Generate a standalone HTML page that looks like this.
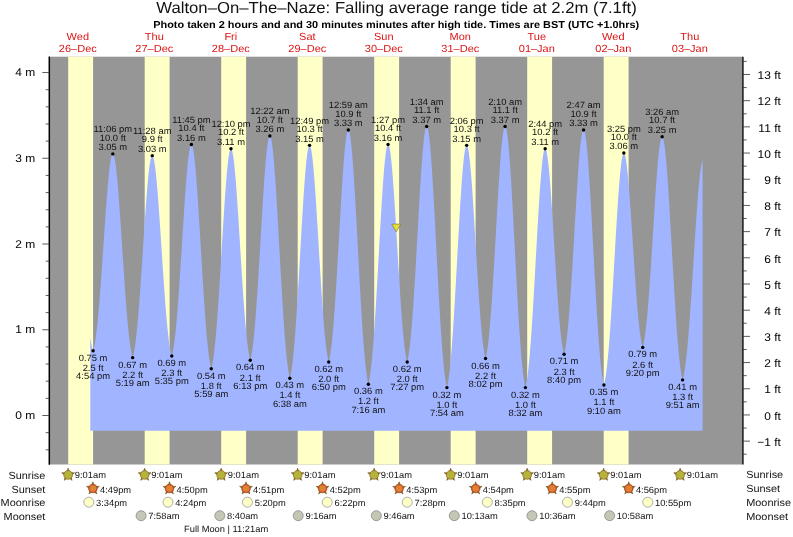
<!DOCTYPE html>
<html><head><meta charset="utf-8"><title>Tide chart</title>
<style>html,body{margin:0;padding:0;background:#fff;width:793px;height:537px;overflow:hidden}</style></head>
<body>
<svg width="793" height="537" viewBox="0 0 793 537" style="position:absolute;left:0;top:0;font-family:'Liberation Sans',sans-serif;text-rendering:geometricPrecision;will-change:transform">
<rect x="49.9" y="56.7" width="692.50" height="407.80" fill="#969696"/>
<rect x="68.20" y="56.7" width="24.9" height="407.80" fill="#ffffc8"/>
<rect x="144.70" y="56.7" width="24.9" height="407.80" fill="#ffffc8"/>
<rect x="221.20" y="56.7" width="24.9" height="407.80" fill="#ffffc8"/>
<rect x="297.70" y="56.7" width="24.9" height="407.80" fill="#ffffc8"/>
<rect x="374.20" y="56.7" width="24.9" height="407.80" fill="#ffffc8"/>
<rect x="450.70" y="56.7" width="24.9" height="407.80" fill="#ffffc8"/>
<rect x="527.20" y="56.7" width="24.9" height="407.80" fill="#ffffc8"/>
<rect x="603.70" y="56.7" width="24.9" height="407.80" fill="#ffffc8"/>
<path d="M90.30,430.80L90.30,337.13L90.80,340.45L91.30,343.40L91.80,345.96L92.30,348.15L92.80,349.97L93.30,350.07L93.80,348.22L94.30,346.00L94.80,343.39L95.30,340.39L95.80,336.99L96.30,333.21L96.80,329.03L97.30,324.48L97.80,319.55L98.30,314.27L98.80,308.65L99.30,302.71L99.80,296.48L100.30,289.98L100.80,283.24L101.30,276.29L101.80,269.18L102.30,261.93L102.80,254.58L103.30,247.17L103.80,239.76L104.30,232.37L104.80,225.06L105.30,217.87L105.80,210.84L106.30,204.03L106.80,197.47L107.30,191.22L107.80,185.31L108.30,179.80L108.80,174.71L109.30,170.10L109.80,166.00L110.30,162.45L110.80,159.47L111.30,157.11L111.80,155.38L112.30,154.31L112.80,153.92L113.30,154.23L113.80,155.25L114.30,156.94L114.80,159.30L115.30,162.28L115.80,165.87L116.30,170.02L116.80,174.71L117.30,179.88L117.80,185.51L118.30,191.55L118.80,197.95L119.30,204.67L119.80,211.66L120.30,218.88L120.80,226.27L121.30,233.80L121.80,241.42L122.30,249.07L122.80,256.71L123.30,264.31L123.80,271.82L124.30,279.19L124.80,286.39L125.30,293.39L125.80,300.15L126.30,306.64L126.80,312.83L127.30,318.70L127.80,324.22L128.30,329.38L128.80,334.16L129.30,338.55L129.80,342.55L130.30,346.14L130.80,349.33L131.30,352.11L131.80,354.49L132.30,356.49L132.80,357.16L133.30,355.30L133.80,353.06L134.30,350.41L134.80,347.36L135.30,343.90L135.80,340.02L136.30,335.74L136.80,331.07L137.30,326.00L137.80,320.57L138.30,314.78L138.80,308.65L139.30,302.22L139.80,295.51L140.30,288.55L140.80,281.37L141.30,274.01L141.80,266.51L142.30,258.91L142.80,251.25L143.30,243.58L143.80,235.94L144.30,228.38L144.80,220.94L145.30,213.69L145.80,206.65L146.30,199.89L146.80,193.44L147.30,187.36L147.80,181.69L148.30,176.48L148.80,171.76L149.30,167.58L149.80,163.98L150.30,160.98L150.80,158.62L151.30,156.93L151.80,155.92L152.30,155.64L152.80,156.07L153.30,157.21L153.80,159.05L154.30,161.54L154.80,164.67L155.30,168.40L155.80,172.70L156.30,177.52L156.80,182.84L157.30,188.59L157.80,194.75L158.30,201.27L158.80,208.09L159.30,215.17L159.80,222.46L160.30,229.91L160.80,237.47L161.30,245.10L161.80,252.75L162.30,260.38L162.80,267.93L163.30,275.36L163.80,282.65L164.30,289.73L164.80,296.60L165.30,303.20L165.80,309.50L166.30,315.50L166.80,321.14L167.30,326.43L167.80,331.34L168.30,335.85L168.80,339.97L169.30,343.67L169.80,346.97L170.30,349.85L170.80,352.33L171.30,354.41L171.80,355.76L172.30,353.91L172.80,351.65L173.30,348.98L173.80,345.88L174.30,342.35L174.80,338.40L175.30,334.03L175.80,329.24L176.30,324.04L176.80,318.45L177.30,312.49L177.80,306.18L178.30,299.54L178.80,292.60L179.30,285.39L179.80,277.95L180.30,270.31L180.80,262.52L181.30,254.60L181.80,246.62L182.30,238.61L182.80,230.62L183.30,222.71L183.80,214.91L184.30,207.28L184.80,199.87L185.30,192.72L185.80,185.90L186.30,179.45L186.80,173.40L187.30,167.82L187.80,162.75L188.30,158.22L188.80,154.28L189.30,150.96L189.80,148.29L190.30,146.32L190.80,145.05L191.30,144.52L191.80,144.75L192.30,145.75L192.80,147.50L193.30,149.98L193.80,153.15L194.30,156.99L194.80,161.45L195.30,166.50L195.80,172.10L196.30,178.19L196.80,184.75L197.30,191.71L197.80,199.03L198.30,206.65L198.80,214.54L199.30,222.63L199.80,230.87L200.30,239.21L200.80,247.61L201.30,256.01L201.80,264.37L202.30,272.63L202.80,280.76L203.30,288.71L203.80,296.44L204.30,303.92L204.80,311.11L205.30,317.98L205.80,324.50L206.30,330.65L206.80,336.41L207.30,341.75L207.80,346.68L208.30,351.16L208.80,355.21L209.30,358.82L209.80,361.98L210.30,364.70L210.80,367.00L211.30,368.68L211.80,366.78L212.30,364.46L212.80,361.71L213.30,358.52L213.80,354.89L214.30,350.82L214.80,346.31L215.30,341.37L215.80,336.01L216.30,330.24L216.80,324.08L217.30,317.56L217.80,310.70L218.30,303.52L218.80,296.07L219.30,288.37L219.80,280.46L220.30,272.38L220.80,264.18L221.30,255.90L221.80,247.59L222.30,239.30L222.80,231.07L223.30,222.96L223.80,215.02L224.30,207.30L224.80,199.85L225.30,192.73L225.80,185.98L226.30,179.65L226.80,173.79L227.30,168.45L227.80,163.67L228.30,159.50L228.80,155.96L229.30,153.09L229.80,150.93L230.30,149.50L230.80,148.84L231.30,148.94L231.80,149.83L232.30,151.46L232.80,153.82L233.30,156.89L233.80,160.61L234.30,164.96L234.80,169.90L235.30,175.38L235.80,181.36L236.30,187.79L236.80,194.62L237.30,201.79L237.80,209.27L238.30,216.98L238.80,224.89L239.30,232.93L239.80,241.06L240.30,249.23L240.80,257.37L241.30,265.45L241.80,273.42L242.30,281.23L242.80,288.84L243.30,296.22L243.80,303.31L244.30,310.10L244.80,316.55L245.30,322.64L245.80,328.34L246.30,333.63L246.80,338.50L247.30,342.93L247.80,346.93L248.30,350.48L248.80,353.59L249.30,356.27L249.80,358.51L250.30,360.10L250.80,358.14L251.30,355.75L251.80,352.92L252.30,349.64L252.80,345.90L253.30,341.71L253.80,337.07L254.30,331.98L254.80,326.46L255.30,320.52L255.80,314.18L256.30,307.47L256.80,300.41L257.30,293.03L257.80,285.36L258.30,277.45L258.80,269.32L259.30,261.03L259.80,252.61L260.30,244.12L260.80,235.60L261.30,227.11L261.80,218.69L262.30,210.40L262.80,202.29L263.30,194.41L263.80,186.83L264.30,179.58L264.80,172.73L265.30,166.33L265.80,160.42L266.30,155.04L266.80,150.26L267.30,146.10L267.80,142.61L268.30,139.82L268.80,137.76L269.30,136.46L269.80,135.95L270.30,136.25L270.80,137.38L271.30,139.31L271.80,142.01L272.30,145.45L272.80,149.60L273.30,154.41L273.80,159.86L274.30,165.88L274.80,172.45L275.30,179.49L275.80,186.98L276.30,194.84L276.80,203.03L277.30,211.50L277.80,220.19L278.30,229.04L278.80,238.01L279.30,247.03L279.80,256.05L280.30,265.03L280.80,273.92L281.30,282.66L281.80,291.21L282.30,299.54L282.80,307.59L283.30,315.34L283.80,322.75L284.30,329.79L284.80,336.43L285.30,342.65L285.80,348.44L286.30,353.78L286.80,358.65L287.30,363.05L287.80,366.98L288.30,370.44L288.80,373.43L289.30,375.95L289.80,378.03L290.30,376.39L290.80,374.00L291.30,371.16L291.80,367.85L292.30,364.08L292.80,359.83L293.30,355.13L293.80,349.96L294.30,344.35L294.80,338.31L295.30,331.85L295.80,325.00L296.30,317.79L296.80,310.24L297.30,302.39L297.80,294.27L298.30,285.93L298.80,277.41L299.30,268.75L299.80,259.99L300.30,251.20L300.80,242.42L301.30,233.69L301.80,225.09L302.30,216.66L302.80,208.45L303.30,200.52L303.80,192.93L304.30,185.73L304.80,178.96L305.30,172.69L305.80,166.96L306.30,161.81L306.80,157.29L307.30,153.45L307.80,150.31L308.30,147.91L308.80,146.29L309.30,145.47L309.80,145.46L310.30,146.26L310.80,147.84L311.30,150.18L311.80,153.25L312.30,157.01L312.80,161.42L313.30,166.45L313.80,172.04L314.30,178.15L314.80,184.73L315.30,191.73L315.80,199.10L316.30,206.77L316.80,214.71L317.30,222.84L317.80,231.12L318.30,239.49L318.80,247.90L319.30,256.29L319.80,264.61L320.30,272.82L320.80,280.87L321.30,288.72L321.80,296.31L322.30,303.63L322.80,310.62L323.30,317.26L323.80,323.52L324.30,329.38L324.80,334.82L325.30,339.83L325.80,344.38L326.30,348.48L326.80,352.12L327.30,355.30L327.80,358.03L328.30,360.31L328.80,361.68L329.30,359.63L329.80,357.12L330.30,354.16L330.80,350.74L331.30,346.84L331.80,342.47L332.30,337.64L332.80,332.34L333.30,326.60L333.80,320.43L334.30,313.85L334.80,306.88L335.30,299.55L335.80,291.90L336.30,283.95L336.80,275.74L337.30,267.33L337.80,258.74L338.30,250.03L338.80,241.24L339.30,232.43L339.80,223.64L340.30,214.94L340.80,206.38L341.30,198.00L341.80,189.88L342.30,182.06L342.80,174.59L343.30,167.53L343.80,160.94L344.30,154.86L344.80,149.35L345.30,144.44L345.80,140.19L346.30,136.62L346.80,133.79L347.30,131.71L347.80,130.43L348.30,129.95L348.80,130.33L349.30,131.56L349.80,133.63L350.30,136.50L350.80,140.15L351.30,144.53L351.80,149.61L352.30,155.34L352.80,161.67L353.30,168.56L353.80,175.96L354.30,183.81L354.80,192.05L355.30,200.64L355.80,209.51L356.30,218.61L356.80,227.88L357.30,237.26L357.80,246.71L358.30,256.15L358.80,265.55L359.30,274.85L359.80,284.00L360.30,292.95L360.80,301.66L361.30,310.09L361.80,318.20L362.30,325.96L362.80,333.33L363.30,340.28L363.80,346.80L364.30,352.87L364.80,358.46L365.30,363.57L365.80,368.19L366.30,372.32L366.80,375.95L367.30,379.09L367.80,381.75L368.30,383.94L368.80,382.42L369.30,379.97L369.80,377.06L370.30,373.67L370.80,369.81L371.30,365.46L371.80,360.63L372.30,355.33L372.80,349.57L373.30,343.37L373.80,336.74L374.30,329.70L374.80,322.29L375.30,314.53L375.80,306.46L376.30,298.12L376.80,289.54L377.30,280.77L377.80,271.86L378.30,262.85L378.80,253.80L379.30,244.75L379.80,235.77L380.30,226.91L380.80,218.22L381.30,209.76L381.80,201.59L382.30,193.76L382.80,186.33L383.30,179.35L383.80,172.87L384.30,166.95L384.80,161.62L385.30,156.95L385.80,152.96L386.30,149.70L386.80,147.21L387.30,145.51L387.80,144.63L388.30,144.59L388.80,145.37L389.30,146.94L389.80,149.27L390.30,152.34L390.80,156.11L391.30,160.54L391.80,165.58L392.30,171.21L392.80,177.35L393.30,183.97L393.80,191.02L394.30,198.43L394.80,206.16L395.30,214.15L395.80,222.33L396.30,230.67L396.80,239.10L397.30,247.56L397.80,256.01L398.30,264.39L398.80,272.65L399.30,280.75L399.80,288.64L400.30,296.28L400.80,303.63L401.30,310.66L401.80,317.33L402.30,323.62L402.80,329.51L403.30,334.96L403.80,339.98L404.30,344.54L404.80,348.64L405.30,352.28L405.80,355.45L406.30,358.17L406.80,360.44L407.30,361.55L407.80,359.42L408.30,356.83L408.80,353.77L409.30,350.23L409.80,346.21L410.30,341.70L410.80,336.72L411.30,331.27L411.80,325.36L412.30,319.01L412.80,312.24L413.30,305.08L413.80,297.56L414.30,289.70L414.80,281.55L415.30,273.14L415.80,264.52L416.30,255.74L416.80,246.83L417.30,237.86L417.80,228.87L418.30,219.92L418.80,211.06L419.30,202.36L419.80,193.86L420.30,185.63L420.80,177.72L421.30,170.19L421.80,163.10L422.30,156.49L422.80,150.42L423.30,144.94L423.80,140.09L424.30,135.92L424.80,132.47L425.30,129.78L425.80,127.88L426.30,126.79L426.80,126.55L427.30,127.17L427.80,128.66L428.30,130.98L428.80,134.11L429.30,138.01L429.80,142.65L430.30,147.98L430.80,153.95L431.30,160.53L431.80,167.66L432.30,175.29L432.80,183.37L433.30,191.84L433.80,200.64L434.30,209.72L434.80,219.02L435.30,228.49L435.80,238.06L436.30,247.69L436.80,257.31L437.30,266.87L437.80,276.33L438.30,285.63L438.80,294.73L439.30,303.59L439.80,312.15L440.30,320.39L440.80,328.27L441.30,335.75L441.80,342.82L442.30,349.45L442.80,355.61L443.30,361.30L443.80,366.50L444.30,371.20L444.80,375.40L445.30,379.11L445.80,382.32L446.30,385.04L446.80,387.29L447.30,385.91L447.80,383.47L448.30,380.55L448.80,377.16L449.30,373.29L449.80,368.93L450.30,364.09L450.80,358.77L451.30,353.00L451.80,346.77L452.30,340.11L452.80,333.05L453.30,325.60L453.80,317.81L454.30,309.69L454.80,301.30L455.30,292.67L455.80,283.85L456.30,274.87L456.80,265.80L457.30,256.68L457.80,247.56L458.30,238.50L458.80,229.55L459.30,220.77L459.80,212.22L460.30,203.95L460.80,196.01L461.30,188.47L461.80,181.38L462.30,174.79L462.80,168.75L463.30,163.30L463.80,158.51L464.30,154.40L464.80,151.01L465.30,148.39L465.80,146.57L466.30,145.56L466.80,145.40L467.30,146.06L467.80,147.52L468.30,149.75L468.80,152.72L469.30,156.40L469.80,160.74L470.30,165.70L470.80,171.25L471.30,177.32L471.80,183.87L472.30,190.84L472.80,198.19L473.30,205.85L473.80,213.77L474.30,221.89L474.80,230.16L475.30,238.51L475.80,246.90L476.30,255.27L476.80,263.58L477.30,271.75L477.80,279.76L478.30,287.56L478.80,295.10L479.30,302.35L479.80,309.26L480.30,315.82L480.80,321.99L481.30,327.75L481.80,333.07L482.30,337.95L482.80,342.38L483.30,346.34L483.80,349.84L484.30,352.87L484.80,355.45L485.30,357.58L485.80,357.58L486.30,355.37L486.80,352.70L487.30,349.56L487.80,345.96L488.30,341.88L488.80,337.32L489.30,332.30L489.80,326.83L490.30,320.91L490.80,314.56L491.30,307.81L491.80,300.68L492.30,293.21L492.80,285.41L493.30,277.34L493.80,269.02L494.30,260.51L494.80,251.84L495.30,243.07L495.80,234.24L496.30,225.41L496.80,216.63L497.30,207.95L497.80,199.44L498.30,191.14L498.80,183.11L499.30,175.41L499.80,168.10L500.30,161.22L500.80,154.82L501.30,148.97L501.80,143.70L502.30,139.06L502.80,135.09L503.30,131.84L503.80,129.33L504.30,127.61L504.80,126.68L505.30,126.59L505.80,127.36L506.30,128.98L506.80,131.42L507.30,134.66L507.80,138.65L508.30,143.36L508.80,148.76L509.30,154.78L509.80,161.40L510.30,168.56L510.80,176.20L511.30,184.29L511.80,192.75L512.30,201.53L512.80,210.59L513.30,219.86L513.80,229.29L514.30,238.82L514.80,248.39L515.30,257.96L515.80,267.47L516.30,276.87L516.80,286.12L517.30,295.16L517.80,303.95L518.30,312.46L518.80,320.64L519.30,328.47L519.80,335.91L520.30,342.93L520.80,349.52L521.30,355.64L521.80,361.30L522.30,366.47L522.80,371.16L523.30,375.34L523.80,379.04L524.30,382.24L524.80,384.96L525.30,387.21L525.80,386.02L526.30,383.62L526.80,380.77L527.30,377.44L527.80,373.64L528.30,369.36L528.80,364.61L529.30,359.39L529.80,353.71L530.30,347.58L530.80,341.04L531.30,334.09L531.80,326.76L532.30,319.09L532.80,311.10L533.30,302.84L533.80,294.34L534.30,285.64L534.80,276.80L535.30,267.86L535.80,258.87L536.30,249.88L536.80,240.94L537.30,232.11L537.80,223.45L538.30,215.01L538.80,206.84L539.30,199.01L539.80,191.56L540.30,184.55L540.80,178.03L541.30,172.05L541.80,166.66L542.30,161.91L542.80,157.83L543.30,154.47L543.80,151.86L544.30,150.03L544.80,149.01L545.30,148.81L545.80,149.42L546.30,150.80L546.80,152.92L547.30,155.76L547.80,159.28L548.30,163.44L548.80,168.20L549.30,173.52L549.80,179.36L550.30,185.65L550.80,192.36L551.30,199.43L551.80,206.80L552.30,214.43L552.80,222.25L553.30,230.21L553.80,238.27L554.30,246.35L554.80,254.42L555.30,262.43L555.80,270.32L556.30,278.04L556.80,285.57L557.30,292.84L557.80,299.84L558.30,306.52L558.80,312.85L559.30,318.81L559.80,324.38L560.30,329.53L560.80,334.25L561.30,338.53L561.80,342.37L562.30,345.75L562.80,348.70L563.30,351.20L563.80,353.27L564.30,353.40L564.80,351.27L565.30,348.70L565.80,345.67L566.30,342.19L566.80,338.24L567.30,333.84L567.80,328.98L568.30,323.68L568.80,317.95L569.30,311.80L569.80,305.26L570.30,298.35L570.80,291.10L571.30,283.54L571.80,275.72L572.30,267.65L572.80,259.40L573.30,250.99L573.80,242.49L574.30,233.93L574.80,225.37L575.30,216.86L575.80,208.45L576.30,200.21L576.80,192.17L577.30,184.40L577.80,176.94L578.30,169.87L578.80,163.21L579.30,157.04L579.80,151.39L580.30,146.31L580.80,141.84L581.30,138.04L581.80,134.92L582.30,132.54L582.80,130.91L583.30,130.07L583.80,130.04L584.30,130.85L584.80,132.48L585.30,134.90L585.80,138.10L586.30,142.03L586.80,146.66L587.30,151.95L587.80,157.85L588.30,164.32L588.80,171.32L589.30,178.79L589.80,186.68L590.30,194.94L590.80,203.51L591.30,212.34L591.80,221.38L592.30,230.57L592.80,239.86L593.30,249.19L593.80,258.51L594.30,267.78L594.80,276.94L595.30,285.95L595.80,294.75L596.30,303.32L596.80,311.61L597.30,319.59L597.80,327.22L598.30,334.47L598.80,341.32L599.30,347.74L599.80,353.72L600.30,359.24L600.80,364.29L601.30,368.86L601.80,372.95L602.30,376.57L602.80,379.70L603.30,382.37L603.80,384.58L604.30,383.59L604.80,381.30L605.30,378.57L605.80,375.40L606.30,371.77L606.80,367.68L607.30,363.14L607.80,358.15L608.30,352.73L608.80,346.87L609.30,340.61L609.80,333.96L610.30,326.95L610.80,319.60L611.30,311.95L611.80,304.03L612.30,295.87L612.80,287.53L613.30,279.03L613.80,270.43L614.30,261.77L614.80,253.10L615.30,244.48L615.80,235.94L616.30,227.56L616.80,219.37L617.30,211.43L617.80,203.79L618.30,196.51L618.80,189.64L619.30,183.22L619.80,177.30L620.30,171.94L620.80,167.17L621.30,163.03L621.80,159.57L622.30,156.81L622.80,154.79L623.30,153.53L623.80,153.07L624.30,153.38L624.80,154.43L625.30,156.20L625.80,158.66L626.30,161.78L626.80,165.52L627.30,169.85L627.80,174.73L628.30,180.10L628.80,185.94L629.30,192.18L629.80,198.78L630.30,205.68L630.80,212.84L631.30,220.21L631.80,227.73L632.30,235.34L632.80,243.01L633.30,250.67L633.80,258.29L634.30,265.81L634.80,273.19L635.30,280.38L635.80,287.36L636.30,294.07L636.80,300.50L637.30,306.60L637.80,312.35L638.30,317.74L638.80,322.73L639.30,327.32L639.80,331.50L640.30,335.25L640.80,338.57L641.30,341.47L641.80,343.95L642.30,346.01L642.80,347.04L643.30,345.14L643.80,342.82L644.30,340.07L644.80,336.89L645.30,333.28L645.80,329.24L646.30,324.76L646.80,319.87L647.30,314.56L647.80,308.86L648.30,302.78L648.80,296.35L649.30,289.59L649.80,282.53L650.30,275.21L650.80,267.66L651.30,259.93L651.80,252.04L652.30,244.05L652.80,236.00L653.30,227.93L653.80,219.91L654.30,211.97L654.80,204.17L655.30,196.57L655.80,189.20L656.30,182.13L656.80,175.40L657.30,169.06L657.80,163.17L658.30,157.76L658.80,152.89L659.30,148.59L659.80,144.91L660.30,141.87L660.80,139.52L661.30,137.88L661.80,136.98L662.30,136.84L662.80,137.49L663.30,138.91L663.80,141.10L664.30,144.01L664.80,147.62L665.30,151.89L665.80,156.80L666.30,162.29L666.80,168.33L667.30,174.87L667.80,181.87L668.30,189.27L668.80,197.03L669.30,205.10L669.80,213.42L670.30,221.95L670.80,230.63L671.30,239.42L671.80,248.26L672.30,257.11L672.80,265.91L673.30,274.63L673.80,283.21L674.30,291.61L674.80,299.80L675.30,307.74L675.80,315.39L676.30,322.72L676.80,329.70L677.30,336.31L677.80,342.52L678.30,348.32L678.80,353.70L679.30,358.63L679.80,363.11L680.30,367.14L680.80,370.72L681.30,373.84L681.80,376.53L682.30,378.77L682.80,379.23L683.30,377.29L683.80,374.98L684.30,372.28L684.80,369.18L685.30,365.68L685.80,361.78L686.30,357.49L686.80,352.80L687.30,347.74L687.80,342.30L688.30,336.51L688.80,330.39L689.30,323.95L689.80,317.22L690.30,310.22L690.80,302.99L691.30,295.55L691.80,287.95L692.30,280.20L692.80,272.36L693.30,264.46L693.80,256.55L694.30,248.66L694.80,240.83L695.30,233.12L695.80,225.56L696.30,218.20L696.80,211.08L697.30,204.25L697.80,197.75L698.30,191.63L698.80,185.92L699.30,180.66L699.80,175.90L700.30,171.67L700.80,167.99L701.30,164.91L701.80,162.46L702.30,160.65L702.60,159.88L702.60,430.80Z" fill="#a0b4ff"/>
<line x1="49.3" y1="56.400000000000006" x2="49.3" y2="464.7" stroke="#000" stroke-width="1.5"/>
<line x1="742.9" y1="56.7" x2="742.9" y2="464.5" stroke="#111" stroke-width="1.5"/>
<line x1="45.7" y1="449.80" x2="49" y2="449.80" stroke="#333" stroke-width="0.8"/>
<line x1="45.7" y1="432.65" x2="49" y2="432.65" stroke="#333" stroke-width="0.8"/>
<line x1="42.3" y1="415.50" x2="49" y2="415.50" stroke="#333" stroke-width="0.8"/>
<text transform="translate(35.20 419.10) scale(1.0638 1)" font-size="11.28" text-anchor="end" fill="#000">0 m</text>
<line x1="45.7" y1="398.35" x2="49" y2="398.35" stroke="#333" stroke-width="0.8"/>
<line x1="45.7" y1="381.20" x2="49" y2="381.20" stroke="#333" stroke-width="0.8"/>
<line x1="45.7" y1="364.06" x2="49" y2="364.06" stroke="#333" stroke-width="0.8"/>
<line x1="45.7" y1="346.91" x2="49" y2="346.91" stroke="#333" stroke-width="0.8"/>
<line x1="42.3" y1="329.76" x2="49" y2="329.76" stroke="#333" stroke-width="0.8"/>
<text transform="translate(35.20 333.36) scale(1.0638 1)" font-size="11.28" text-anchor="end" fill="#000">1 m</text>
<line x1="45.7" y1="312.61" x2="49" y2="312.61" stroke="#333" stroke-width="0.8"/>
<line x1="45.7" y1="295.46" x2="49" y2="295.46" stroke="#333" stroke-width="0.8"/>
<line x1="45.7" y1="278.32" x2="49" y2="278.32" stroke="#333" stroke-width="0.8"/>
<line x1="45.7" y1="261.17" x2="49" y2="261.17" stroke="#333" stroke-width="0.8"/>
<line x1="42.3" y1="244.02" x2="49" y2="244.02" stroke="#333" stroke-width="0.8"/>
<text transform="translate(35.20 247.62) scale(1.0638 1)" font-size="11.28" text-anchor="end" fill="#000">2 m</text>
<line x1="45.7" y1="226.87" x2="49" y2="226.87" stroke="#333" stroke-width="0.8"/>
<line x1="45.7" y1="209.72" x2="49" y2="209.72" stroke="#333" stroke-width="0.8"/>
<line x1="45.7" y1="192.58" x2="49" y2="192.58" stroke="#333" stroke-width="0.8"/>
<line x1="45.7" y1="175.43" x2="49" y2="175.43" stroke="#333" stroke-width="0.8"/>
<line x1="42.3" y1="158.28" x2="49" y2="158.28" stroke="#333" stroke-width="0.8"/>
<text transform="translate(35.20 161.88) scale(1.0638 1)" font-size="11.28" text-anchor="end" fill="#000">3 m</text>
<line x1="45.7" y1="141.13" x2="49" y2="141.13" stroke="#333" stroke-width="0.8"/>
<line x1="45.7" y1="123.98" x2="49" y2="123.98" stroke="#333" stroke-width="0.8"/>
<line x1="45.7" y1="106.84" x2="49" y2="106.84" stroke="#333" stroke-width="0.8"/>
<line x1="45.7" y1="89.69" x2="49" y2="89.69" stroke="#333" stroke-width="0.8"/>
<line x1="42.3" y1="72.54" x2="49" y2="72.54" stroke="#333" stroke-width="0.8"/>
<text transform="translate(35.20 76.14) scale(1.0638 1)" font-size="11.28" text-anchor="end" fill="#000">4 m</text>
<line x1="743" y1="454.24" x2="746.7" y2="454.24" stroke="#333" stroke-width="0.8"/>
<line x1="743" y1="441.14" x2="750" y2="441.14" stroke="#333" stroke-width="0.8"/>
<text transform="translate(780.80 445.84) scale(1.0638 1)" font-size="11.28" text-anchor="end" fill="#000">−1 ft</text>
<line x1="743" y1="428.05" x2="746.7" y2="428.05" stroke="#333" stroke-width="0.8"/>
<line x1="743" y1="414.95" x2="750" y2="414.95" stroke="#333" stroke-width="0.8"/>
<text transform="translate(780.80 419.65) scale(1.0638 1)" font-size="11.28" text-anchor="end" fill="#000">0 ft</text>
<line x1="743" y1="401.85" x2="746.7" y2="401.85" stroke="#333" stroke-width="0.8"/>
<line x1="743" y1="388.76" x2="750" y2="388.76" stroke="#333" stroke-width="0.8"/>
<text transform="translate(780.80 393.46) scale(1.0638 1)" font-size="11.28" text-anchor="end" fill="#000">1 ft</text>
<line x1="743" y1="375.66" x2="746.7" y2="375.66" stroke="#333" stroke-width="0.8"/>
<line x1="743" y1="362.57" x2="750" y2="362.57" stroke="#333" stroke-width="0.8"/>
<text transform="translate(780.80 367.27) scale(1.0638 1)" font-size="11.28" text-anchor="end" fill="#000">2 ft</text>
<line x1="743" y1="349.47" x2="746.7" y2="349.47" stroke="#333" stroke-width="0.8"/>
<line x1="743" y1="336.38" x2="750" y2="336.38" stroke="#333" stroke-width="0.8"/>
<text transform="translate(780.80 341.08) scale(1.0638 1)" font-size="11.28" text-anchor="end" fill="#000">3 ft</text>
<line x1="743" y1="323.28" x2="746.7" y2="323.28" stroke="#333" stroke-width="0.8"/>
<line x1="743" y1="310.19" x2="750" y2="310.19" stroke="#333" stroke-width="0.8"/>
<text transform="translate(780.80 314.89) scale(1.0638 1)" font-size="11.28" text-anchor="end" fill="#000">4 ft</text>
<line x1="743" y1="297.09" x2="746.7" y2="297.09" stroke="#333" stroke-width="0.8"/>
<line x1="743" y1="284.00" x2="750" y2="284.00" stroke="#333" stroke-width="0.8"/>
<text transform="translate(780.80 288.70) scale(1.0638 1)" font-size="11.28" text-anchor="end" fill="#000">5 ft</text>
<line x1="743" y1="270.90" x2="746.7" y2="270.90" stroke="#333" stroke-width="0.8"/>
<line x1="743" y1="257.81" x2="750" y2="257.81" stroke="#333" stroke-width="0.8"/>
<text transform="translate(780.80 262.51) scale(1.0638 1)" font-size="11.28" text-anchor="end" fill="#000">6 ft</text>
<line x1="743" y1="244.71" x2="746.7" y2="244.71" stroke="#333" stroke-width="0.8"/>
<line x1="743" y1="231.62" x2="750" y2="231.62" stroke="#333" stroke-width="0.8"/>
<text transform="translate(780.80 236.32) scale(1.0638 1)" font-size="11.28" text-anchor="end" fill="#000">7 ft</text>
<line x1="743" y1="218.52" x2="746.7" y2="218.52" stroke="#333" stroke-width="0.8"/>
<line x1="743" y1="205.43" x2="750" y2="205.43" stroke="#333" stroke-width="0.8"/>
<text transform="translate(780.80 210.13) scale(1.0638 1)" font-size="11.28" text-anchor="end" fill="#000">8 ft</text>
<line x1="743" y1="192.33" x2="746.7" y2="192.33" stroke="#333" stroke-width="0.8"/>
<line x1="743" y1="179.24" x2="750" y2="179.24" stroke="#333" stroke-width="0.8"/>
<text transform="translate(780.80 183.94) scale(1.0638 1)" font-size="11.28" text-anchor="end" fill="#000">9 ft</text>
<line x1="743" y1="166.14" x2="746.7" y2="166.14" stroke="#333" stroke-width="0.8"/>
<line x1="743" y1="153.05" x2="750" y2="153.05" stroke="#333" stroke-width="0.8"/>
<text transform="translate(780.80 157.75) scale(1.0638 1)" font-size="11.28" text-anchor="end" fill="#000">10 ft</text>
<line x1="743" y1="139.95" x2="746.7" y2="139.95" stroke="#333" stroke-width="0.8"/>
<line x1="743" y1="126.86" x2="750" y2="126.86" stroke="#333" stroke-width="0.8"/>
<text transform="translate(780.80 131.56) scale(1.0638 1)" font-size="11.28" text-anchor="end" fill="#000">11 ft</text>
<line x1="743" y1="113.76" x2="746.7" y2="113.76" stroke="#333" stroke-width="0.8"/>
<line x1="743" y1="100.67" x2="750" y2="100.67" stroke="#333" stroke-width="0.8"/>
<text transform="translate(780.80 105.37) scale(1.0638 1)" font-size="11.28" text-anchor="end" fill="#000">12 ft</text>
<line x1="743" y1="87.57" x2="746.7" y2="87.57" stroke="#333" stroke-width="0.8"/>
<line x1="743" y1="74.48" x2="750" y2="74.48" stroke="#333" stroke-width="0.8"/>
<text transform="translate(780.80 79.18) scale(1.0638 1)" font-size="11.28" text-anchor="end" fill="#000">13 ft</text>
<line x1="743" y1="61.38" x2="746.7" y2="61.38" stroke="#333" stroke-width="0.8"/>
<text x="396.5" y="13.2" font-size="15.9" text-anchor="middle" fill="#111" textLength="480.5" lengthAdjust="spacingAndGlyphs">Walton–On–The–Naze: Falling average range tide at 2.2m (7.1ft)</text>
<text x="396.2" y="28.0" font-size="10.1" font-weight="bold" text-anchor="middle" fill="#000" textLength="486" lengthAdjust="spacingAndGlyphs">Photo taken 2 hours and and 30 minutes minutes after high tide. Times are BST (UTC +1.0hrs)</text>
<text transform="translate(77.80 39.60) scale(1.0638 1)" font-size="10.34" text-anchor="middle" fill="#dc1414">Wed</text>
<text transform="translate(77.80 51.80) scale(1.0638 1)" font-size="10.34" text-anchor="middle" fill="#dc1414">26–Dec</text>
<text transform="translate(154.30 39.60) scale(1.0638 1)" font-size="10.34" text-anchor="middle" fill="#dc1414">Thu</text>
<text transform="translate(154.30 51.80) scale(1.0638 1)" font-size="10.34" text-anchor="middle" fill="#dc1414">27–Dec</text>
<text transform="translate(230.80 39.60) scale(1.0638 1)" font-size="10.34" text-anchor="middle" fill="#dc1414">Fri</text>
<text transform="translate(230.80 51.80) scale(1.0638 1)" font-size="10.34" text-anchor="middle" fill="#dc1414">28–Dec</text>
<text transform="translate(307.30 39.60) scale(1.0638 1)" font-size="10.34" text-anchor="middle" fill="#dc1414">Sat</text>
<text transform="translate(307.30 51.80) scale(1.0638 1)" font-size="10.34" text-anchor="middle" fill="#dc1414">29–Dec</text>
<text transform="translate(383.80 39.60) scale(1.0638 1)" font-size="10.34" text-anchor="middle" fill="#dc1414">Sun</text>
<text transform="translate(383.80 51.80) scale(1.0638 1)" font-size="10.34" text-anchor="middle" fill="#dc1414">30–Dec</text>
<text transform="translate(460.30 39.60) scale(1.0638 1)" font-size="10.34" text-anchor="middle" fill="#dc1414">Mon</text>
<text transform="translate(460.30 51.80) scale(1.0638 1)" font-size="10.34" text-anchor="middle" fill="#dc1414">31–Dec</text>
<text transform="translate(536.80 39.60) scale(1.0638 1)" font-size="10.34" text-anchor="middle" fill="#dc1414">Tue</text>
<text transform="translate(536.80 51.80) scale(1.0638 1)" font-size="10.34" text-anchor="middle" fill="#dc1414">01–Jan</text>
<text transform="translate(613.30 39.60) scale(1.0638 1)" font-size="10.34" text-anchor="middle" fill="#dc1414">Wed</text>
<text transform="translate(613.30 51.80) scale(1.0638 1)" font-size="10.34" text-anchor="middle" fill="#dc1414">02–Jan</text>
<text transform="translate(689.80 39.60) scale(1.0638 1)" font-size="10.34" text-anchor="middle" fill="#dc1414">Thu</text>
<text transform="translate(689.80 51.80) scale(1.0638 1)" font-size="10.34" text-anchor="middle" fill="#dc1414">03–Jan</text>
<circle cx="93.07" cy="350.80" r="1.7" fill="#000"/>
<text transform="translate(93.07 360.90) scale(1.0309 1)" font-size="9.12" text-anchor="middle" fill="#111">0.75 m</text>
<text transform="translate(93.07 371.10) scale(1.0309 1)" font-size="9.12" text-anchor="middle" fill="#111">2.5 ft</text>
<text transform="translate(93.07 379.30) scale(1.0309 1)" font-size="9.12" text-anchor="middle" fill="#111">4:54 pm</text>
<circle cx="112.83" cy="153.92" r="1.7" fill="#000"/>
<text transform="translate(112.83 132.42) scale(1.0309 1)" font-size="9.12" text-anchor="middle" fill="#111">11:06 pm</text>
<text transform="translate(112.83 140.52) scale(1.0309 1)" font-size="9.12" text-anchor="middle" fill="#111">10.0 ft</text>
<text transform="translate(112.83 150.12) scale(1.0309 1)" font-size="9.12" text-anchor="middle" fill="#111">3.05 m</text>
<circle cx="132.65" cy="357.65" r="1.7" fill="#000"/>
<text transform="translate(132.65 367.75) scale(1.0309 1)" font-size="9.12" text-anchor="middle" fill="#111">0.67 m</text>
<text transform="translate(132.65 377.95) scale(1.0309 1)" font-size="9.12" text-anchor="middle" fill="#111">2.2 ft</text>
<text transform="translate(132.65 386.15) scale(1.0309 1)" font-size="9.12" text-anchor="middle" fill="#111">5:19 am</text>
<circle cx="152.25" cy="155.63" r="1.7" fill="#000"/>
<text transform="translate(152.25 134.13) scale(1.0309 1)" font-size="9.12" text-anchor="middle" fill="#111">11:28 am</text>
<text transform="translate(152.25 142.23) scale(1.0309 1)" font-size="9.12" text-anchor="middle" fill="#111">9.9 ft</text>
<text transform="translate(152.25 151.83) scale(1.0309 1)" font-size="9.12" text-anchor="middle" fill="#111">3.03 m</text>
<circle cx="171.75" cy="355.94" r="1.7" fill="#000"/>
<text transform="translate(171.75 366.04) scale(1.0309 1)" font-size="9.12" text-anchor="middle" fill="#111">0.69 m</text>
<text transform="translate(171.75 376.24) scale(1.0309 1)" font-size="9.12" text-anchor="middle" fill="#111">2.3 ft</text>
<text transform="translate(171.75 384.44) scale(1.0309 1)" font-size="9.12" text-anchor="middle" fill="#111">5:35 pm</text>
<circle cx="191.40" cy="144.50" r="1.7" fill="#000"/>
<text transform="translate(191.40 123.00) scale(1.0309 1)" font-size="9.12" text-anchor="middle" fill="#111">11:45 pm</text>
<text transform="translate(191.40 131.10) scale(1.0309 1)" font-size="9.12" text-anchor="middle" fill="#111">10.4 ft</text>
<text transform="translate(191.40 140.70) scale(1.0309 1)" font-size="9.12" text-anchor="middle" fill="#111">3.16 m</text>
<circle cx="211.27" cy="368.78" r="1.7" fill="#000"/>
<text transform="translate(211.27 378.88) scale(1.0309 1)" font-size="9.12" text-anchor="middle" fill="#111">0.54 m</text>
<text transform="translate(211.27 389.08) scale(1.0309 1)" font-size="9.12" text-anchor="middle" fill="#111">1.8 ft</text>
<text transform="translate(211.27 397.28) scale(1.0309 1)" font-size="9.12" text-anchor="middle" fill="#111">5:59 am</text>
<circle cx="230.98" cy="148.78" r="1.7" fill="#000"/>
<text transform="translate(230.98 127.28) scale(1.0309 1)" font-size="9.12" text-anchor="middle" fill="#111">12:10 pm</text>
<text transform="translate(230.98 135.38) scale(1.0309 1)" font-size="9.12" text-anchor="middle" fill="#111">10.2 ft</text>
<text transform="translate(230.98 144.98) scale(1.0309 1)" font-size="9.12" text-anchor="middle" fill="#111">3.11 m</text>
<circle cx="250.27" cy="360.22" r="1.7" fill="#000"/>
<text transform="translate(250.27 370.32) scale(1.0309 1)" font-size="9.12" text-anchor="middle" fill="#111">0.64 m</text>
<text transform="translate(250.27 380.52) scale(1.0309 1)" font-size="9.12" text-anchor="middle" fill="#111">2.1 ft</text>
<text transform="translate(250.27 388.72) scale(1.0309 1)" font-size="9.12" text-anchor="middle" fill="#111">6:13 pm</text>
<circle cx="269.87" cy="135.94" r="1.7" fill="#000"/>
<text transform="translate(269.87 114.44) scale(1.0309 1)" font-size="9.12" text-anchor="middle" fill="#111">12:22 am</text>
<text transform="translate(269.87 122.54) scale(1.0309 1)" font-size="9.12" text-anchor="middle" fill="#111">10.7 ft</text>
<text transform="translate(269.87 132.14) scale(1.0309 1)" font-size="9.12" text-anchor="middle" fill="#111">3.26 m</text>
<circle cx="289.84" cy="378.19" r="1.7" fill="#000"/>
<text transform="translate(289.84 388.29) scale(1.0309 1)" font-size="9.12" text-anchor="middle" fill="#111">0.43 m</text>
<text transform="translate(289.84 398.49) scale(1.0309 1)" font-size="9.12" text-anchor="middle" fill="#111">1.4 ft</text>
<text transform="translate(289.84 406.69) scale(1.0309 1)" font-size="9.12" text-anchor="middle" fill="#111">6:38 am</text>
<circle cx="309.55" cy="145.36" r="1.7" fill="#000"/>
<text transform="translate(309.55 123.86) scale(1.0309 1)" font-size="9.12" text-anchor="middle" fill="#111">12:49 pm</text>
<text transform="translate(309.55 131.96) scale(1.0309 1)" font-size="9.12" text-anchor="middle" fill="#111">10.3 ft</text>
<text transform="translate(309.55 141.56) scale(1.0309 1)" font-size="9.12" text-anchor="middle" fill="#111">3.15 m</text>
<circle cx="328.73" cy="361.93" r="1.7" fill="#000"/>
<text transform="translate(328.73 372.03) scale(1.0309 1)" font-size="9.12" text-anchor="middle" fill="#111">0.62 m</text>
<text transform="translate(328.73 382.23) scale(1.0309 1)" font-size="9.12" text-anchor="middle" fill="#111">2.0 ft</text>
<text transform="translate(328.73 390.43) scale(1.0309 1)" font-size="9.12" text-anchor="middle" fill="#111">6:50 pm</text>
<circle cx="348.33" cy="129.95" r="1.7" fill="#000"/>
<text transform="translate(348.33 108.45) scale(1.0309 1)" font-size="9.12" text-anchor="middle" fill="#111">12:59 am</text>
<text transform="translate(348.33 116.55) scale(1.0309 1)" font-size="9.12" text-anchor="middle" fill="#111">10.9 ft</text>
<text transform="translate(348.33 126.15) scale(1.0309 1)" font-size="9.12" text-anchor="middle" fill="#111">3.33 m</text>
<circle cx="368.36" cy="384.18" r="1.7" fill="#000"/>
<text transform="translate(368.36 394.28) scale(1.0309 1)" font-size="9.12" text-anchor="middle" fill="#111">0.36 m</text>
<text transform="translate(368.36 404.48) scale(1.0309 1)" font-size="9.12" text-anchor="middle" fill="#111">1.2 ft</text>
<text transform="translate(368.36 412.68) scale(1.0309 1)" font-size="9.12" text-anchor="middle" fill="#111">7:16 am</text>
<circle cx="388.07" cy="144.50" r="1.7" fill="#000"/>
<text transform="translate(388.07 123.00) scale(1.0309 1)" font-size="9.12" text-anchor="middle" fill="#111">1:27 pm</text>
<text transform="translate(388.07 131.10) scale(1.0309 1)" font-size="9.12" text-anchor="middle" fill="#111">10.4 ft</text>
<text transform="translate(388.07 140.70) scale(1.0309 1)" font-size="9.12" text-anchor="middle" fill="#111">3.16 m</text>
<circle cx="407.20" cy="361.93" r="1.7" fill="#000"/>
<text transform="translate(407.20 372.03) scale(1.0309 1)" font-size="9.12" text-anchor="middle" fill="#111">0.62 m</text>
<text transform="translate(407.20 382.23) scale(1.0309 1)" font-size="9.12" text-anchor="middle" fill="#111">2.0 ft</text>
<text transform="translate(407.20 390.43) scale(1.0309 1)" font-size="9.12" text-anchor="middle" fill="#111">7:27 pm</text>
<circle cx="426.69" cy="126.53" r="1.7" fill="#000"/>
<text transform="translate(426.69 105.03) scale(1.0309 1)" font-size="9.12" text-anchor="middle" fill="#111">1:34 am</text>
<text transform="translate(426.69 113.13) scale(1.0309 1)" font-size="9.12" text-anchor="middle" fill="#111">11.1 ft</text>
<text transform="translate(426.69 122.73) scale(1.0309 1)" font-size="9.12" text-anchor="middle" fill="#111">3.37 m</text>
<circle cx="446.88" cy="387.61" r="1.7" fill="#000"/>
<text transform="translate(446.88 397.71) scale(1.0309 1)" font-size="9.12" text-anchor="middle" fill="#111">0.32 m</text>
<text transform="translate(446.88 407.91) scale(1.0309 1)" font-size="9.12" text-anchor="middle" fill="#111">1.0 ft</text>
<text transform="translate(446.88 416.11) scale(1.0309 1)" font-size="9.12" text-anchor="middle" fill="#111">7:54 am</text>
<circle cx="466.64" cy="145.36" r="1.7" fill="#000"/>
<text transform="translate(466.64 123.86) scale(1.0309 1)" font-size="9.12" text-anchor="middle" fill="#111">2:06 pm</text>
<text transform="translate(466.64 131.96) scale(1.0309 1)" font-size="9.12" text-anchor="middle" fill="#111">10.3 ft</text>
<text transform="translate(466.64 141.56) scale(1.0309 1)" font-size="9.12" text-anchor="middle" fill="#111">3.15 m</text>
<circle cx="485.56" cy="358.50" r="1.7" fill="#000"/>
<text transform="translate(485.56 368.60) scale(1.0309 1)" font-size="9.12" text-anchor="middle" fill="#111">0.66 m</text>
<text transform="translate(485.56 378.80) scale(1.0309 1)" font-size="9.12" text-anchor="middle" fill="#111">2.2 ft</text>
<text transform="translate(485.56 387.00) scale(1.0309 1)" font-size="9.12" text-anchor="middle" fill="#111">8:02 pm</text>
<circle cx="505.11" cy="126.53" r="1.7" fill="#000"/>
<text transform="translate(505.11 105.03) scale(1.0309 1)" font-size="9.12" text-anchor="middle" fill="#111">2:10 am</text>
<text transform="translate(505.11 113.13) scale(1.0309 1)" font-size="9.12" text-anchor="middle" fill="#111">11.1 ft</text>
<text transform="translate(505.11 122.73) scale(1.0309 1)" font-size="9.12" text-anchor="middle" fill="#111">3.37 m</text>
<circle cx="525.40" cy="387.61" r="1.7" fill="#000"/>
<text transform="translate(525.40 397.71) scale(1.0309 1)" font-size="9.12" text-anchor="middle" fill="#111">0.32 m</text>
<text transform="translate(525.40 407.91) scale(1.0309 1)" font-size="9.12" text-anchor="middle" fill="#111">1.0 ft</text>
<text transform="translate(525.40 416.11) scale(1.0309 1)" font-size="9.12" text-anchor="middle" fill="#111">8:32 am</text>
<circle cx="545.16" cy="148.78" r="1.7" fill="#000"/>
<text transform="translate(545.16 127.28) scale(1.0309 1)" font-size="9.12" text-anchor="middle" fill="#111">2:44 pm</text>
<text transform="translate(545.16 135.38) scale(1.0309 1)" font-size="9.12" text-anchor="middle" fill="#111">10.2 ft</text>
<text transform="translate(545.16 144.98) scale(1.0309 1)" font-size="9.12" text-anchor="middle" fill="#111">3.11 m</text>
<circle cx="564.08" cy="354.22" r="1.7" fill="#000"/>
<text transform="translate(564.08 364.32) scale(1.0309 1)" font-size="9.12" text-anchor="middle" fill="#111">0.71 m</text>
<text transform="translate(564.08 374.52) scale(1.0309 1)" font-size="9.12" text-anchor="middle" fill="#111">2.3 ft</text>
<text transform="translate(564.08 382.72) scale(1.0309 1)" font-size="9.12" text-anchor="middle" fill="#111">8:40 pm</text>
<circle cx="583.57" cy="129.95" r="1.7" fill="#000"/>
<text transform="translate(583.57 108.45) scale(1.0309 1)" font-size="9.12" text-anchor="middle" fill="#111">2:47 am</text>
<text transform="translate(583.57 116.55) scale(1.0309 1)" font-size="9.12" text-anchor="middle" fill="#111">10.9 ft</text>
<text transform="translate(583.57 126.15) scale(1.0309 1)" font-size="9.12" text-anchor="middle" fill="#111">3.33 m</text>
<circle cx="603.92" cy="385.04" r="1.7" fill="#000"/>
<text transform="translate(603.92 395.14) scale(1.0309 1)" font-size="9.12" text-anchor="middle" fill="#111">0.35 m</text>
<text transform="translate(603.92 405.34) scale(1.0309 1)" font-size="9.12" text-anchor="middle" fill="#111">1.1 ft</text>
<text transform="translate(603.92 413.54) scale(1.0309 1)" font-size="9.12" text-anchor="middle" fill="#111">9:10 am</text>
<circle cx="623.84" cy="153.06" r="1.7" fill="#000"/>
<text transform="translate(623.84 131.56) scale(1.0309 1)" font-size="9.12" text-anchor="middle" fill="#111">3:25 pm</text>
<text transform="translate(623.84 139.66) scale(1.0309 1)" font-size="9.12" text-anchor="middle" fill="#111">10.0 ft</text>
<text transform="translate(623.84 149.26) scale(1.0309 1)" font-size="9.12" text-anchor="middle" fill="#111">3.06 m</text>
<circle cx="642.70" cy="347.38" r="1.7" fill="#000"/>
<text transform="translate(642.70 357.48) scale(1.0309 1)" font-size="9.12" text-anchor="middle" fill="#111">0.79 m</text>
<text transform="translate(642.70 367.68) scale(1.0309 1)" font-size="9.12" text-anchor="middle" fill="#111">2.6 ft</text>
<text transform="translate(642.70 375.88) scale(1.0309 1)" font-size="9.12" text-anchor="middle" fill="#111">9:20 pm</text>
<circle cx="662.14" cy="136.80" r="1.7" fill="#000"/>
<text transform="translate(662.14 115.30) scale(1.0309 1)" font-size="9.12" text-anchor="middle" fill="#111">3:26 am</text>
<text transform="translate(662.14 123.40) scale(1.0309 1)" font-size="9.12" text-anchor="middle" fill="#111">10.7 ft</text>
<text transform="translate(662.14 133.00) scale(1.0309 1)" font-size="9.12" text-anchor="middle" fill="#111">3.25 m</text>
<circle cx="682.60" cy="379.90" r="1.7" fill="#000"/>
<text transform="translate(682.60 390.00) scale(1.0309 1)" font-size="9.12" text-anchor="middle" fill="#111">0.41 m</text>
<text transform="translate(682.60 400.20) scale(1.0309 1)" font-size="9.12" text-anchor="middle" fill="#111">1.3 ft</text>
<text transform="translate(682.60 408.40) scale(1.0309 1)" font-size="9.12" text-anchor="middle" fill="#111">9:51 am</text>
<path d="M391.7,224.1 L400.8,224.1 L396.25,231.8Z" fill="#e0e040" stroke="#8a6a20" stroke-width="0.6"/>
<text transform="translate(45.40 478.70) scale(1.0638 1)" font-size="10.25" text-anchor="end" fill="#111">Sunrise</text>
<text transform="translate(746.20 478.00) scale(1.0638 1)" font-size="10.25" text-anchor="start" fill="#111">Sunrise</text>
<text transform="translate(45.40 492.90) scale(1.0638 1)" font-size="10.25" text-anchor="end" fill="#111">Sunset</text>
<text transform="translate(746.20 492.40) scale(1.0638 1)" font-size="10.25" text-anchor="start" fill="#111">Sunset</text>
<text transform="translate(45.40 506.20) scale(1.0638 1)" font-size="10.25" text-anchor="end" fill="#111">Moonrise</text>
<text transform="translate(746.20 506.20) scale(1.0638 1)" font-size="10.25" text-anchor="start" fill="#111">Moonrise</text>
<text transform="translate(45.40 520.00) scale(1.0638 1)" font-size="10.25" text-anchor="end" fill="#111">Moonset</text>
<text transform="translate(746.20 519.80) scale(1.0638 1)" font-size="10.25" text-anchor="start" fill="#111">Moonset</text>
<polygon points="68.14,468.20 69.67,472.80 74.51,472.83 70.61,475.70 72.08,480.32 68.14,477.50 64.20,480.32 65.67,475.70 61.77,472.83 66.61,472.80" fill="#8a7a28" stroke="#6a4a10" stroke-width="0.6" stroke-linejoin="miter"/>
<circle cx="68.14" cy="474.9" r="4.35" fill="#b4b43c" stroke="#8c5e1e" stroke-width="0.7"/>
<text transform="translate(74.84 477.90) scale(1.0309 1)" font-size="9.05" text-anchor="start" fill="#111">9:01am</text>
<polygon points="144.64,468.20 146.17,472.80 151.01,472.83 147.11,475.70 148.58,480.32 144.64,477.50 140.70,480.32 142.17,475.70 138.27,472.83 143.11,472.80" fill="#8a7a28" stroke="#6a4a10" stroke-width="0.6" stroke-linejoin="miter"/>
<circle cx="144.64" cy="474.9" r="4.35" fill="#b4b43c" stroke="#8c5e1e" stroke-width="0.7"/>
<text transform="translate(151.34 477.90) scale(1.0309 1)" font-size="9.05" text-anchor="start" fill="#111">9:01am</text>
<polygon points="221.14,468.20 222.67,472.80 227.51,472.83 223.61,475.70 225.08,480.32 221.14,477.50 217.20,480.32 218.67,475.70 214.77,472.83 219.61,472.80" fill="#8a7a28" stroke="#6a4a10" stroke-width="0.6" stroke-linejoin="miter"/>
<circle cx="221.14" cy="474.9" r="4.35" fill="#b4b43c" stroke="#8c5e1e" stroke-width="0.7"/>
<text transform="translate(227.84 477.90) scale(1.0309 1)" font-size="9.05" text-anchor="start" fill="#111">9:01am</text>
<polygon points="297.64,468.20 299.17,472.80 304.01,472.83 300.11,475.70 301.58,480.32 297.64,477.50 293.70,480.32 295.17,475.70 291.27,472.83 296.11,472.80" fill="#8a7a28" stroke="#6a4a10" stroke-width="0.6" stroke-linejoin="miter"/>
<circle cx="297.64" cy="474.9" r="4.35" fill="#b4b43c" stroke="#8c5e1e" stroke-width="0.7"/>
<text transform="translate(304.34 477.90) scale(1.0309 1)" font-size="9.05" text-anchor="start" fill="#111">9:01am</text>
<polygon points="374.14,468.20 375.67,472.80 380.51,472.83 376.61,475.70 378.08,480.32 374.14,477.50 370.20,480.32 371.67,475.70 367.77,472.83 372.61,472.80" fill="#8a7a28" stroke="#6a4a10" stroke-width="0.6" stroke-linejoin="miter"/>
<circle cx="374.14" cy="474.9" r="4.35" fill="#b4b43c" stroke="#8c5e1e" stroke-width="0.7"/>
<text transform="translate(380.84 477.90) scale(1.0309 1)" font-size="9.05" text-anchor="start" fill="#111">9:01am</text>
<polygon points="450.64,468.20 452.17,472.80 457.01,472.83 453.11,475.70 454.58,480.32 450.64,477.50 446.70,480.32 448.17,475.70 444.27,472.83 449.11,472.80" fill="#8a7a28" stroke="#6a4a10" stroke-width="0.6" stroke-linejoin="miter"/>
<circle cx="450.64" cy="474.9" r="4.35" fill="#b4b43c" stroke="#8c5e1e" stroke-width="0.7"/>
<text transform="translate(457.34 477.90) scale(1.0309 1)" font-size="9.05" text-anchor="start" fill="#111">9:01am</text>
<polygon points="527.14,468.20 528.67,472.80 533.51,472.83 529.61,475.70 531.08,480.32 527.14,477.50 523.20,480.32 524.67,475.70 520.77,472.83 525.61,472.80" fill="#8a7a28" stroke="#6a4a10" stroke-width="0.6" stroke-linejoin="miter"/>
<circle cx="527.14" cy="474.9" r="4.35" fill="#b4b43c" stroke="#8c5e1e" stroke-width="0.7"/>
<text transform="translate(533.84 477.90) scale(1.0309 1)" font-size="9.05" text-anchor="start" fill="#111">9:01am</text>
<polygon points="603.64,468.20 605.17,472.80 610.01,472.83 606.11,475.70 607.58,480.32 603.64,477.50 599.70,480.32 601.17,475.70 597.27,472.83 602.11,472.80" fill="#8a7a28" stroke="#6a4a10" stroke-width="0.6" stroke-linejoin="miter"/>
<circle cx="603.64" cy="474.9" r="4.35" fill="#b4b43c" stroke="#8c5e1e" stroke-width="0.7"/>
<text transform="translate(610.34 477.90) scale(1.0309 1)" font-size="9.05" text-anchor="start" fill="#111">9:01am</text>
<polygon points="680.14,468.20 681.67,472.80 686.51,472.83 682.61,475.70 684.08,480.32 680.14,477.50 676.20,480.32 677.67,475.70 673.77,472.83 678.61,472.80" fill="#8a7a28" stroke="#6a4a10" stroke-width="0.6" stroke-linejoin="miter"/>
<circle cx="680.14" cy="474.9" r="4.35" fill="#b4b43c" stroke="#8c5e1e" stroke-width="0.7"/>
<text transform="translate(686.84 477.90) scale(1.0309 1)" font-size="9.05" text-anchor="start" fill="#111">9:01am</text>
<polygon points="92.90,481.80 94.43,486.40 99.28,486.43 95.38,489.30 96.84,493.92 92.90,491.10 88.96,493.92 90.43,489.30 86.53,486.43 91.37,486.40" fill="#8a7a28" stroke="#6a4a10" stroke-width="0.6" stroke-linejoin="miter"/>
<circle cx="92.90" cy="488.5" r="4.35" fill="#e4382a" stroke="#8c5e1e" stroke-width="0.7"/>
<circle cx="92.90" cy="488.5" r="3.3" fill="#dc8434"/>
<text transform="translate(100.00 492.50) scale(1.0309 1)" font-size="9.05" text-anchor="start" fill="#111">4:49pm</text>
<polygon points="169.46,481.80 170.98,486.40 175.83,486.43 171.93,489.30 173.39,493.92 169.46,491.10 165.52,493.92 166.98,489.30 163.08,486.43 167.93,486.40" fill="#8a7a28" stroke="#6a4a10" stroke-width="0.6" stroke-linejoin="miter"/>
<circle cx="169.46" cy="488.5" r="4.35" fill="#e4382a" stroke="#8c5e1e" stroke-width="0.7"/>
<circle cx="169.46" cy="488.5" r="3.3" fill="#dc8434"/>
<text transform="translate(176.56 492.50) scale(1.0309 1)" font-size="9.05" text-anchor="start" fill="#111">4:50pm</text>
<polygon points="246.01,481.80 247.54,486.40 252.38,486.43 248.48,489.30 249.95,493.92 246.01,491.10 242.07,493.92 243.54,489.30 239.64,486.43 244.48,486.40" fill="#8a7a28" stroke="#6a4a10" stroke-width="0.6" stroke-linejoin="miter"/>
<circle cx="246.01" cy="488.5" r="4.35" fill="#e4382a" stroke="#8c5e1e" stroke-width="0.7"/>
<circle cx="246.01" cy="488.5" r="3.3" fill="#dc8434"/>
<text transform="translate(253.11 492.50) scale(1.0309 1)" font-size="9.05" text-anchor="start" fill="#111">4:51pm</text>
<polygon points="322.56,481.80 324.09,486.40 328.93,486.43 325.04,489.30 326.50,493.92 322.56,491.10 318.62,493.92 320.09,489.30 316.19,486.43 321.03,486.40" fill="#8a7a28" stroke="#6a4a10" stroke-width="0.6" stroke-linejoin="miter"/>
<circle cx="322.56" cy="488.5" r="4.35" fill="#e4382a" stroke="#8c5e1e" stroke-width="0.7"/>
<circle cx="322.56" cy="488.5" r="3.3" fill="#dc8434"/>
<text transform="translate(329.66 492.50) scale(1.0309 1)" font-size="9.05" text-anchor="start" fill="#111">4:52pm</text>
<polygon points="399.12,481.80 400.64,486.40 405.49,486.43 401.59,489.30 403.05,493.92 399.12,491.10 395.18,493.92 396.64,489.30 392.74,486.43 397.59,486.40" fill="#8a7a28" stroke="#6a4a10" stroke-width="0.6" stroke-linejoin="miter"/>
<circle cx="399.12" cy="488.5" r="4.35" fill="#e4382a" stroke="#8c5e1e" stroke-width="0.7"/>
<circle cx="399.12" cy="488.5" r="3.3" fill="#dc8434"/>
<text transform="translate(406.22 492.50) scale(1.0309 1)" font-size="9.05" text-anchor="start" fill="#111">4:53pm</text>
<polygon points="475.67,481.80 477.20,486.40 482.04,486.43 478.14,489.30 479.61,493.92 475.67,491.10 471.73,493.92 473.20,489.30 469.30,486.43 474.14,486.40" fill="#8a7a28" stroke="#6a4a10" stroke-width="0.6" stroke-linejoin="miter"/>
<circle cx="475.67" cy="488.5" r="4.35" fill="#e4382a" stroke="#8c5e1e" stroke-width="0.7"/>
<circle cx="475.67" cy="488.5" r="3.3" fill="#dc8434"/>
<text transform="translate(482.77 492.50) scale(1.0309 1)" font-size="9.05" text-anchor="start" fill="#111">4:54pm</text>
<polygon points="552.22,481.80 553.75,486.40 558.59,486.43 554.69,489.30 556.16,493.92 552.22,491.10 548.28,493.92 549.75,489.30 545.85,486.43 550.69,486.40" fill="#8a7a28" stroke="#6a4a10" stroke-width="0.6" stroke-linejoin="miter"/>
<circle cx="552.22" cy="488.5" r="4.35" fill="#e4382a" stroke="#8c5e1e" stroke-width="0.7"/>
<circle cx="552.22" cy="488.5" r="3.3" fill="#dc8434"/>
<text transform="translate(559.32 492.50) scale(1.0309 1)" font-size="9.05" text-anchor="start" fill="#111">4:55pm</text>
<polygon points="628.78,481.80 630.30,486.40 635.15,486.43 631.25,489.30 632.71,493.92 628.78,491.10 624.84,493.92 626.30,489.30 622.40,486.43 627.25,486.40" fill="#8a7a28" stroke="#6a4a10" stroke-width="0.6" stroke-linejoin="miter"/>
<circle cx="628.78" cy="488.5" r="4.35" fill="#e4382a" stroke="#8c5e1e" stroke-width="0.7"/>
<circle cx="628.78" cy="488.5" r="3.3" fill="#dc8434"/>
<text transform="translate(635.88 492.50) scale(1.0309 1)" font-size="9.05" text-anchor="start" fill="#111">4:56pm</text>
<circle cx="88.82" cy="502.2" r="5.0" fill="#ffffc8" stroke="#9a9a9a" stroke-width="0.8"/>
<text transform="translate(96.02 506.20) scale(1.0309 1)" font-size="9.05" text-anchor="start" fill="#111">3:34pm</text>
<circle cx="167.97" cy="502.2" r="5.0" fill="#ffffc8" stroke="#9a9a9a" stroke-width="0.8"/>
<text transform="translate(175.17 506.20) scale(1.0309 1)" font-size="9.05" text-anchor="start" fill="#111">4:24pm</text>
<circle cx="247.45" cy="502.2" r="5.0" fill="#ffffc8" stroke="#9a9a9a" stroke-width="0.8"/>
<text transform="translate(254.65 506.20) scale(1.0309 1)" font-size="9.05" text-anchor="start" fill="#111">5:20pm</text>
<circle cx="327.24" cy="502.2" r="5.0" fill="#ffffc8" stroke="#9a9a9a" stroke-width="0.8"/>
<text transform="translate(334.44 506.20) scale(1.0309 1)" font-size="9.05" text-anchor="start" fill="#111">6:22pm</text>
<circle cx="407.25" cy="502.2" r="5.0" fill="#ffffc8" stroke="#9a9a9a" stroke-width="0.8"/>
<text transform="translate(414.45 506.20) scale(1.0309 1)" font-size="9.05" text-anchor="start" fill="#111">7:28pm</text>
<circle cx="487.31" cy="502.2" r="5.0" fill="#ffffc8" stroke="#9a9a9a" stroke-width="0.8"/>
<text transform="translate(494.51 506.20) scale(1.0309 1)" font-size="9.05" text-anchor="start" fill="#111">8:35pm</text>
<circle cx="567.48" cy="502.2" r="5.0" fill="#ffffc8" stroke="#9a9a9a" stroke-width="0.8"/>
<text transform="translate(574.68 506.20) scale(1.0309 1)" font-size="9.05" text-anchor="start" fill="#111">9:44pm</text>
<circle cx="647.75" cy="502.2" r="5.0" fill="#ffffc8" stroke="#9a9a9a" stroke-width="0.8"/>
<text transform="translate(654.95 506.20) scale(1.0309 1)" font-size="9.05" text-anchor="start" fill="#111">10:55pm</text>
<circle cx="141.09" cy="515.7" r="5.0" fill="#c6c6b4" stroke="#888" stroke-width="0.8"/>
<text transform="translate(148.29 518.80) scale(1.0309 1)" font-size="9.05" text-anchor="start" fill="#111">7:58am</text>
<circle cx="219.82" cy="515.7" r="5.0" fill="#c6c6b4" stroke="#888" stroke-width="0.8"/>
<text transform="translate(227.02 518.80) scale(1.0309 1)" font-size="9.05" text-anchor="start" fill="#111">8:40am</text>
<circle cx="298.24" cy="515.7" r="5.0" fill="#c6c6b4" stroke="#888" stroke-width="0.8"/>
<text transform="translate(305.44 518.80) scale(1.0309 1)" font-size="9.05" text-anchor="start" fill="#111">9:16am</text>
<circle cx="376.33" cy="515.7" r="5.0" fill="#c6c6b4" stroke="#888" stroke-width="0.8"/>
<text transform="translate(383.53 518.80) scale(1.0309 1)" font-size="9.05" text-anchor="start" fill="#111">9:46am</text>
<circle cx="454.27" cy="515.7" r="5.0" fill="#c6c6b4" stroke="#888" stroke-width="0.8"/>
<text transform="translate(461.47 518.80) scale(1.0309 1)" font-size="9.05" text-anchor="start" fill="#111">10:13am</text>
<circle cx="531.99" cy="515.7" r="5.0" fill="#c6c6b4" stroke="#888" stroke-width="0.8"/>
<text transform="translate(539.19 518.80) scale(1.0309 1)" font-size="9.05" text-anchor="start" fill="#111">10:36am</text>
<circle cx="609.66" cy="515.7" r="5.0" fill="#c6c6b4" stroke="#888" stroke-width="0.8"/>
<text transform="translate(616.86 518.80) scale(1.0309 1)" font-size="9.05" text-anchor="start" fill="#111">10:58am</text>
<text transform="translate(226.10 531.80) scale(1.0309 1)" font-size="9.05" text-anchor="middle" fill="#111">Full Moon | 11:21am</text>
</svg>
</body></html>
